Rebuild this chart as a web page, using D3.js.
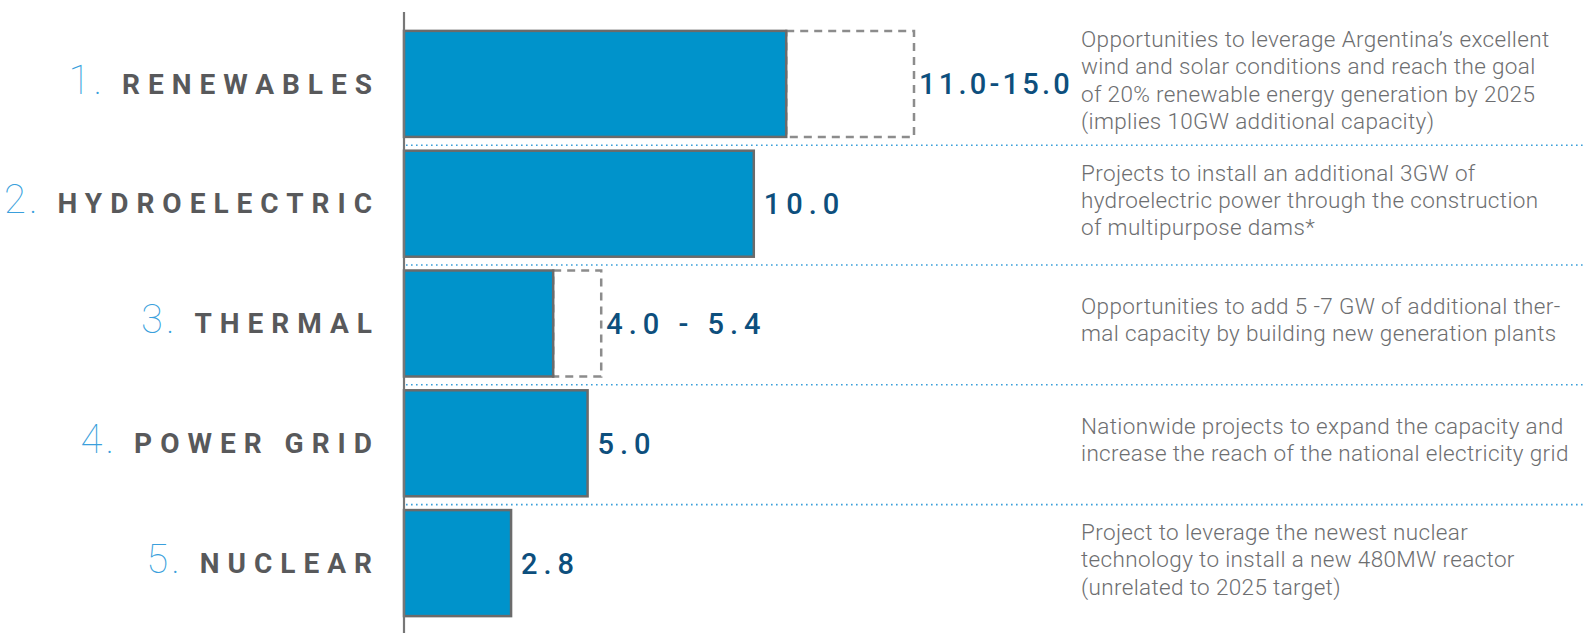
<!DOCTYPE html>
<html>
<head>
<meta charset="utf-8">
<script src="https://cdn.jsdelivr.net/npm/d3@7"></script>
<style>
  body { margin: 0; background: #fff; }
  svg { display: block; }
</style>
</head>
<body>
<svg width="1584" height="633"></svg>
<script>
// chart values
var ranks = ['1', '2', '3', '4', '5']
var categories = ['RENEWABLES', 'HYDROELECTRIC', 'THERMAL', 'POWER GRID', 'NUCLEAR']
var lowValues = [11.0, 10.0, 4.0, 5.0, 2.8]
var highValues = [15.0, null, 5.4, null, null]
var valueLabels = ['11.0-15.0', '10.0', '4.0 - 5.4', '5.0', '2.8']
var notes = [
  ['Opportunities to leverage Argentina\u2019s excellent', 'wind and solar conditions and reach the goal', 'of 20% renewable energy generation by 2025', '(implies 10GW additional capacity)'],
  ['Projects to install an additional 3GW of', 'hydroelectric power through the construction', 'of multipurpose dams*'],
  ['Opportunities to add 5 -7 GW of additional ther-', 'mal capacity by building new generation plants'],
  ['Nationwide projects to expand the capacity and', 'increase the reach of the national electricity grid'],
  ['Project to leverage the newest nuclear', 'technology to install a new 480MW reactor', '(unrelated to 2025 target)']
]

var svg = d3.select('svg'),
    axisX = 404,
    noteX = 1081

// the picture is not drawn strictly to scale, a slightly bent scale fits it best
var x = d3.scalePow().exponent(0.93)
    .domain([0, 15])
    .range([0, 510])

var y = d3.scaleBand()
    .domain(d3.range(categories.length))
    .range([24, 623])
    .paddingInner(0.115)
    .paddingOuter(0.0575)

var rows = d3.range(categories.length)

function mid(i) { return y(i) + y.bandwidth() / 2; }

// dotted separators between rows
svg.selectAll('.sep')
  .data(rows.slice(1))
  .enter().append('line')
    .attr('class', 'sep')
    .attr('x1', axisX + 2)
    .attr('x2', 1584)
    .attr('y1', function(i) { return y(i) - y.step() * y.paddingInner() * 0.4; })
    .attr('y2', function(i) { return y(i) - y.step() * y.paddingInner() * 0.4; })
    .attr('stroke', '#3a9fd9')
    .attr('stroke-width', 1.6)
    .attr('stroke-dasharray', '1.6,3.4');

// dashed range boxes
svg.selectAll('.range')
  .data(rows.filter(function(i) { return highValues[i] != null; }))
  .enter().append('rect')
    .attr('class', 'range')
    .attr('x', function(i) { return axisX + x(lowValues[i]); })
    .attr('y', function(i) { return y(i); })
    .attr('width', function(i) { return x(highValues[i]) - x(lowValues[i]); })
    .attr('height', y.bandwidth())
    .attr('fill', 'none')
    .attr('stroke', '#8c8c8c')
    .attr('stroke-width', 2.5)
    .attr('stroke-dasharray', '8,6');

// bars
svg.selectAll('.bar')
  .data(rows)
  .enter().append('rect')
    .attr('class', 'bar')
    .attr('x', axisX)
    .attr('y', function(i) { return y(i); })
    .attr('width', function(i) { return x(lowValues[i]); })
    .attr('height', y.bandwidth())
    .attr('fill', '#0093cb')
    .attr('stroke', '#6b6b6b')
    .attr('stroke-width', 2.5);

// axis line
svg.append('line')
    .attr('x1', axisX).attr('x2', axisX)
    .attr('y1', 12).attr('y2', 633)
    .attr('stroke', '#777')
    .attr('stroke-width', 2.2);

// value labels
var vals = svg.selectAll('.val')
  .data(rows)
  .enter().append('text')
    .attr('class', 'val')
    .attr('x', function(i) { return axisX + x(highValues[i] != null ? highValues[i] : lowValues[i]) + (highValues[i] != null ? 5 : 10); })
    .attr('y', mid)
    .attr('dy', '0.36em')
    .attr('font-family', 'Roboto, sans-serif')
    .attr('font-weight', 500)
    .attr('font-size', 29)
    .attr('letter-spacing', 6)
    .attr('fill', '#0d4f7d')
    .text(function(i) { return valueLabels[i]; });

// squeeze spacing if a label runs into the notes column
vals.each(function(i) {
  var t = d3.select(this),
      room = noteX - 8 - (+t.attr('x')),
      w = this.getComputedTextLength(),
      n = valueLabels[i].length
  if (w > room) t.attr('letter-spacing', Math.max(0, 6 - (w - room) / n));
});

// category labels
var cat = svg.selectAll('.cat')
  .data(rows)
  .enter().append('text')
    .attr('class', 'cat')
    .attr('x', 380)
    .attr('y', function(i) { return mid(i) + 4; })
    .attr('dy', '0.36em')
    .attr('text-anchor', 'end')
    .attr('font-family', 'Roboto, sans-serif');

cat.append('tspan')
    .attr('font-size', 40)
    .attr('font-weight', 100)
    .attr('fill', '#3a9fdc')
    .text(function(i) { return ranks[i]; });
cat.append('tspan')
    .attr('font-size', 40)
    .attr('font-weight', 100)
    .attr('fill', '#3a9fdc')
    .attr('dx', 3)
    .text('.');
cat.append('tspan')
    .attr('dx', 20)
    .attr('font-size', 28)
    .attr('font-weight', 700)
    .attr('letter-spacing', 8)
    .attr('fill', '#58595b')
    .text(function(i) { return categories[i]; });

// notes on the right
var note = svg.selectAll('.note')
  .data(rows)
  .enter().append('text')
    .attr('class', 'note')
    .attr('font-family', 'Roboto, sans-serif')
    .attr('font-weight', 300)
    .attr('font-size', 22.5)
    .attr('letter-spacing', 0.35)
    .attr('fill', '#6d6e70');

note.selectAll('tspan')
  .data(function(i) {
    var lines = notes[i], c = mid(i) - 4;
    return lines.map(function(t, k) { return {t: t, y: c + (k - (lines.length - 1) / 2) * 27.3}; });
  })
  .enter().append('tspan')
    .attr('x', noteX)
    .attr('y', function(d) { return d.y; })
    .attr('dy', '0.36em')
    .text(function(d) { return d.t; });
</script>
</body>
</html>
